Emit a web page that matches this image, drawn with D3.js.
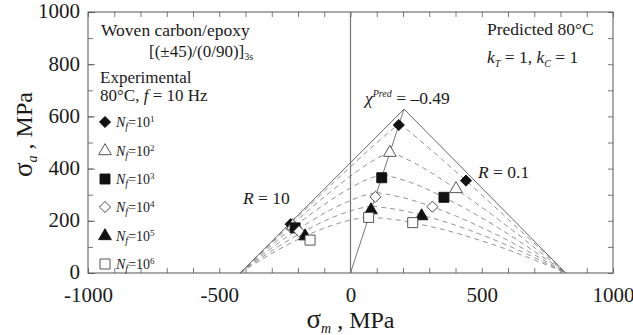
<!DOCTYPE html>
<html>
<head>
<meta charset="utf-8">
<script src="https://cdn.jsdelivr.net/npm/d3@7"></script>
<style>
    body { margin: 0; background: #fff; }
    svg text { font-family: "Liberation Serif", "Tinos", "Nimbus Roman", "Times New Roman", "DejaVu Serif", serif; fill: #1a1a1a; }
</style>
</head>
<body>
<svg id="chart"></svg>
<script>
"use strict";

// life levels (exponent of Nf)
var lifeExps = [1, 2, 3, 4, 5, 6];

// experimental points, one entry per life level
var chiSm = [184, 150, 119, 95, 78, 69];
var chiSa = [567, 461, 365, 292, 241, 213];
var r01Sm = [440, 402, 356, 312, 271, 237];
var r01Sa = [354, 322, 290, 254, 218, 193];
var r10Sm = [-228, -220, -211, -196, -173, -154];
var r10Sa = [187, 180, 173, 160, 141, 126];

// static envelope and chi line
var envelope = [[-420, 0], [204, 628], [820, 0]];
var chiLine = [[0, 0], [204, 628]];

// predicted constant life curves (sigma_m, sigma_a)
var curveN1 = [[-420, 0], [-380, 40], [-330, 89], [-250, 168], [-160, 255], [-80, 332], [0, 407], [100, 499], [186, 573],
    [250, 521], [350, 434], [450, 345], [550, 253], [650, 160], [720, 95], [780, 38], [820, 0]];
var curveN2 = [[-420, 0], [-380, 39], [-330, 87], [-250, 161], [-160, 241], [-80, 308], [0, 371], [80, 427], [151, 465],
    [250, 418], [350, 357], [450, 288], [550, 215], [650, 138], [720, 82], [780, 33], [820, 0]];
var curveN3 = [[-420, 0], [-380, 37], [-330, 81], [-250, 149], [-160, 219], [-80, 276], [0, 326], [60, 357], [123, 378],
    [250, 339], [350, 293], [450, 240], [550, 181], [650, 117], [720, 70], [780, 29], [820, 0]];
var curveN4 = [[-420, 0], [-380, 33], [-330, 73], [-250, 133], [-160, 193], [-80, 240], [0, 278], [50, 297], [100, 308],
    [200, 289], [300, 258], [400, 219], [500, 174], [600, 125], [680, 81], [750, 42], [820, 0]];
var curveN5 = [[-420, 0], [-380, 30], [-330, 65], [-250, 117], [-160, 169], [-80, 208], [0, 238], [40, 249], [83, 256],
    [200, 239], [300, 214], [400, 183], [500, 146], [600, 105], [680, 69], [750, 35], [820, 0]];
var curveN6 = [[-420, 0], [-380, 26], [-330, 57], [-250, 103], [-160, 147], [-80, 179], [0, 203], [35, 210], [70, 214],
    [200, 200], [300, 179], [400, 154], [500, 123], [600, 89], [680, 58], [750, 30], [820, 0]];
var lifeCurves = [curveN1, curveN2, curveN3, curveN4, curveN5, curveN6];

var xTickLabels = [-1000, -500, 0, 500, 1000];
var yTickLabels = [0, 200, 400, 600, 800, 1000];

(function () {

    var margin = { top: 12, right: 20, bottom: 62, left: 88 },
        width = 633,
        height = 335,
        chartWidth = width - margin.left - margin.right,
        chartHeight = height - margin.top - margin.bottom;

    var markerShape = ["diamond", "triangle", "square", "diamond", "triangle", "square"];
    var markerFilled = [true, false, true, false, true, false];

    var svg = d3.select("#chart")
        .attr("width", width)
        .attr("height", height);

    var g = svg.append("g")
        .attr("transform", "translate(" + margin.left + "," + margin.top + ")");

    var xScale = d3.scaleLinear().domain([-1000, 1000]).range([0, chartWidth]);
    var yScale = d3.scaleLinear().domain([0, 1000]).range([chartHeight, 0]);

    // inward ticks on all four sides
    var minorX = d3.range(-1000, 1001, 100);
    var minorY = d3.range(0, 1001, 100);

    function styleTicks(sel) {
        sel.select(".domain").remove();
        sel.selectAll("line").attr("stroke", "#555").attr("stroke-width", 0.8);
    }

    g.append("g")
        .attr("transform", "translate(0," + chartHeight + ")")
        .call(d3.axisBottom(xScale).tickValues(minorX).tickSizeInner(-5).tickSizeOuter(0).tickFormat(""))
        .call(styleTicks);
    g.append("g")
        .call(d3.axisTop(xScale).tickValues(minorX).tickSizeInner(-5).tickSizeOuter(0).tickFormat(""))
        .call(styleTicks);
    g.append("g")
        .call(d3.axisLeft(yScale).tickValues(minorY)
            .tickSizeInner(-5).tickSizeOuter(0).tickFormat(""))
        .call(styleTicks);
    g.append("g")
        .attr("transform", "translate(" + chartWidth + ",0)")
        .call(d3.axisRight(yScale).tickValues(minorY).tickSizeInner(-5).tickSizeOuter(0).tickFormat(""))
        .call(styleTicks);
    g.append("g")
        .call(d3.axisLeft(yScale).tickValues(yTickLabels).tickSizeInner(-7).tickSizeOuter(0).tickFormat(""))
        .call(styleTicks);

    // tick labels
    var xLab = g.append("g")
        .attr("transform", "translate(0," + chartHeight + ")")
        .call(d3.axisBottom(xScale).tickValues(xTickLabels).tickSize(0).tickPadding(14)
            .tickFormat(function (d) { return String(d); }));
    xLab.select(".domain").remove();
    xLab.selectAll("text").style("font-size", "21px");

    var yLab = g.append("g")
        .call(d3.axisLeft(yScale).tickValues(yTickLabels).tickSize(0).tickPadding(8)
            .tickFormat(function (d) { return String(d); }));
    yLab.select(".domain").remove();
    yLab.selectAll("text").style("font-size", "21px").attr("dy", "0.28em");

    // frame
    g.append("rect")
        .attr("x", 0).attr("y", 0)
        .attr("width", chartWidth).attr("height", chartHeight)
        .attr("fill", "none").attr("stroke", "#555").attr("stroke-width", 1);

    // sigma_m = 0 line
    g.append("line")
        .attr("x1", xScale(0)).attr("x2", xScale(0))
        .attr("y1", yScale(0)).attr("y2", yScale(1000))
        .attr("stroke", "#777").attr("stroke-width", 1.2);

    var line = d3.line()
        .x(function (d) { return xScale(d[0]); })
        .y(function (d) { return yScale(d[1]); });
    var smooth = d3.line()
        .x(function (d) { return xScale(d[0]); })
        .y(function (d) { return yScale(d[1]); })
        .curve(d3.curveMonotoneX);

    // dashed predicted curves, split at the peak so the corner stays sharp
    lifeCurves.forEach(function (c) {
        var k = d3.maxIndex(c, function (d) { return d[1]; });
        [c.slice(0, k + 1), c.slice(k)].forEach(function (part) {
            g.append("path")
                .attr("d", smooth(part))
                .attr("fill", "none")
                .attr("stroke", "#808080")
                .attr("stroke-width", 0.85)
                .attr("stroke-dasharray", "5,4");
        });
    });

    g.append("path")
        .attr("d", line(envelope))
        .attr("fill", "none").attr("stroke", "#666").attr("stroke-width", 1);
    g.append("path")
        .attr("d", line(chiLine))
        .attr("fill", "none").attr("stroke", "#777").attr("stroke-width", 1);

    function markerPath(i) {
        if (markerShape[i] === "triangle") return d3.symbol(d3.symbolTriangle, 70)();
        if (markerShape[i] === "diamond") return d3.symbol(d3.symbolSquare, 62)();
        return d3.symbol(d3.symbolSquare, 100)();
    }

    function drawMarker(parent, i, px, py) {
        var rot = markerShape[i] === "diamond" ? " rotate(45)" : "";
        parent.append("path")
            .attr("d", markerPath(i))
            .attr("transform", "translate(" + px + "," + py + ")" + rot)
            .attr("fill", markerFilled[i] ? "#111" : "#fff")
            .attr("stroke", markerFilled[i] ? "#111" : "#444")
            .attr("stroke-width", 0.9);
    }

    // experimental points
    var sets = [[r10Sm, r10Sa], [chiSm, chiSa], [r01Sm, r01Sa]];
    sets.forEach(function (s) {
        lifeExps.forEach(function (e, i) {
            drawMarker(g, i, xScale(s[0][i]), yScale(s[1][i]));
        });
    });

    // legend
    var legendY = [122, 151, 179, 207, 236, 264];
    lifeExps.forEach(function (e, i) {
        drawMarker(svg, i, 105, legendY[i]);
        var t = svg.append("text")
            .attr("x", 116).attr("y", legendY[i] + 5)
            .style("font-size", "14px");
        t.append("tspan").style("font-style", "italic").text("N");
        t.append("tspan").style("font-style", "italic").style("font-size", "10px")
            .attr("dy", 3).text("f");
        t.append("tspan").attr("dy", -3).text("=10");
        t.append("tspan").style("font-size", "9px").attr("dy", -5).text(e);
    });

    // annotations
    function addText(x, y, size) {
        return svg.append("text").attr("x", x).attr("y", y).style("font-size", size + "px");
    }

    addText(101, 36, 17.5).text("Woven carbon/epoxy");
    var lay = addText(149, 57, 17);
    lay.append("tspan").text("[(\u00b145)/(0/90)]");
    lay.append("tspan").style("font-size", "10px").attr("dy", 3).text("3s");
    addText(100, 83, 17).text("Experimental");
    var cond = addText(100, 101, 17);
    cond.append("tspan").text("80\u00b0C, ");
    cond.append("tspan").style("font-style", "italic").text("f");
    cond.append("tspan").text(" = 10 Hz");

    addText(487, 35, 17.5).text("Predicted  80\u00b0C");
    var kk = addText(487, 63, 17.5);
    kk.append("tspan").style("font-style", "italic").text("k");
    kk.append("tspan").style("font-style", "italic").style("font-size", "10px").attr("dy", 4).text("T");
    kk.append("tspan").attr("dy", -4).text(" = 1,  ");
    kk.append("tspan").style("font-style", "italic").text("k");
    kk.append("tspan").style("font-style", "italic").style("font-size", "10px").attr("dy", 4).text("C");
    kk.append("tspan").attr("dy", -4).text(" = 1");

    var chi = addText(365, 104, 17.5);
    chi.append("tspan").style("font-style", "italic").text("\u03c7");
    chi.append("tspan").style("font-style", "italic").style("font-size", "10px").attr("dy", -7).text("Pred");
    chi.append("tspan").attr("dy", 7).text(" = \u20130.49");

    var r10 = addText(243, 204, 17.5);
    r10.append("tspan").style("font-style", "italic").text("R");
    r10.append("tspan").text(" = 10");
    var r01 = addText(478, 178, 17.5);
    r01.append("tspan").style("font-style", "italic").text("R");
    r01.append("tspan").text(" = 0.1");

    // axis titles
    var xt = svg.append("text")
        .attr("x", margin.left + xScale(0)).attr("y", 328)
        .attr("text-anchor", "middle").style("font-size", "24px");
    xt.append("tspan").style("font-size", "27px").text("\u03c3");
    xt.append("tspan").style("font-style", "italic").style("font-size", "14px").attr("dy", 5).text("m");
    xt.append("tspan").attr("dy", -5).text(" , MPa");

    var yt = svg.append("text")
        .attr("transform", "translate(32," + (margin.top + chartHeight / 2 - 8) + ") rotate(-90)")
        .attr("text-anchor", "middle").style("font-size", "24px");
    yt.append("tspan").style("font-size", "27px").text("\u03c3");
    yt.append("tspan").style("font-style", "italic").style("font-size", "14px").attr("dy", 5).text("a");
    yt.append("tspan").attr("dy", -5).text(" , MPa");

})();
</script>
</body>
</html>
